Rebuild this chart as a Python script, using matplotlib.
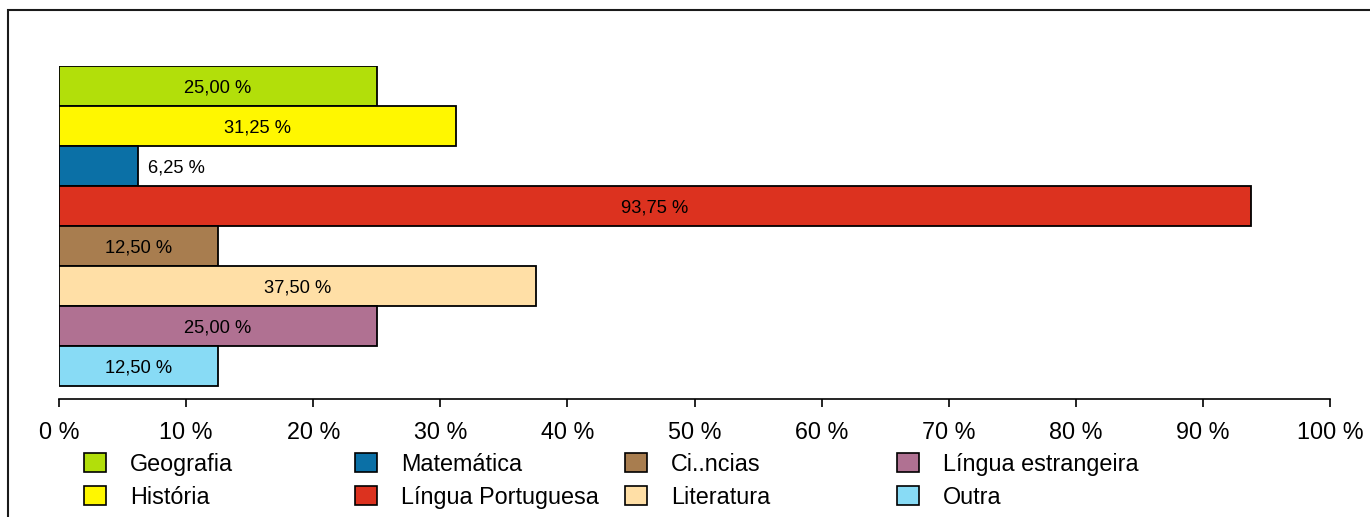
import matplotlib
matplotlib.use("Agg")
import matplotlib.pyplot as plt
from matplotlib.patches import Rectangle

plt.rcParams['font.family'] = ['Liberation Sans', 'DejaVu Sans']

categories = ["Geografia", "História", "Matemática", "Língua Portuguesa",
              "Ci..ncias", "Literatura", "Língua estrangeira", "Outra"]
values = [25.00, 31.25, 6.25, 93.75, 12.50, 37.50, 25.00, 12.50]
colors = ["#b2df0a", "#fff700", "#0b70a6", "#dc321f",
          "#a87d4f", "#ffdfa6", "#b07192", "#88dbf5"]
xticks = [0, 10, 20, 30, 40, 50, 60, 70, 80, 90, 100]

W, H = 1370, 517
fig = plt.figure(figsize=(W / 100, H / 100), dpi=100)

# outer frame (partially visible)
fig.patches.append(Rectangle((7.5 / W, -0.1), 1.2, 1.1 - 10 / H,
                             transform=fig.transFigure, fill=False,
                             edgecolor="#1a1a1a", linewidth=1.5))

ax = fig.add_axes([59 / W, (H - 399) / H, 1271 / W, 333 / H])
ypos = list(range(len(categories)))
ax.barh(ypos, values, height=1.0, color=colors, edgecolor="black", linewidth=1.3)
ax.set_ylim(len(categories) - 0.5 + 13 / 40, -0.5)
ax.set_xlim(0, 100)

for y, v in zip(ypos, values):
    lab = f"{v:.2f}".replace(".", ",") + " %"
    if v < 10:
        ax.text(v + 0.75, y, lab, ha="left", va="center_baseline", fontsize=13.2, color="black")
    else:
        ax.text(v / 2, y, lab, ha="center", va="center_baseline", fontsize=13.2, color="black")

for s in ["left", "right", "top"]:
    ax.spines[s].set_visible(False)
ax.spines["bottom"].set_bounds(0, 100)
ax.spines["bottom"].set_linewidth(1.2)
ax.set_yticks([])
ax.set_xticks(xticks)
ax.set_xticklabels([f"{t} %" for t in xticks], fontsize=16.8)
ax.tick_params(axis="x", direction="out", length=6, width=1.2, pad=9.5)

# legend (4 columns x 2 rows, column-major)
col_x = [84, 355, 625, 897]
row_y = [462, 495]
for i, (cat, col) in enumerate(zip(categories, colors)):
    c, r = divmod(i, 2)
    x0 = col_x[c]
    yc = row_y[r]
    fig.patches.append(Rectangle((x0 / W, (H - yc - 9.5) / H), 22 / W, 19 / H,
                                 transform=fig.transFigure, facecolor=col,
                                 edgecolor="black", linewidth=1.2))
    fig.text((x0 + 46) / W, (H - yc) / H, cat, ha="left", va="center_baseline", fontsize=16.8)

fig.savefig("out.png", dpi=100)
